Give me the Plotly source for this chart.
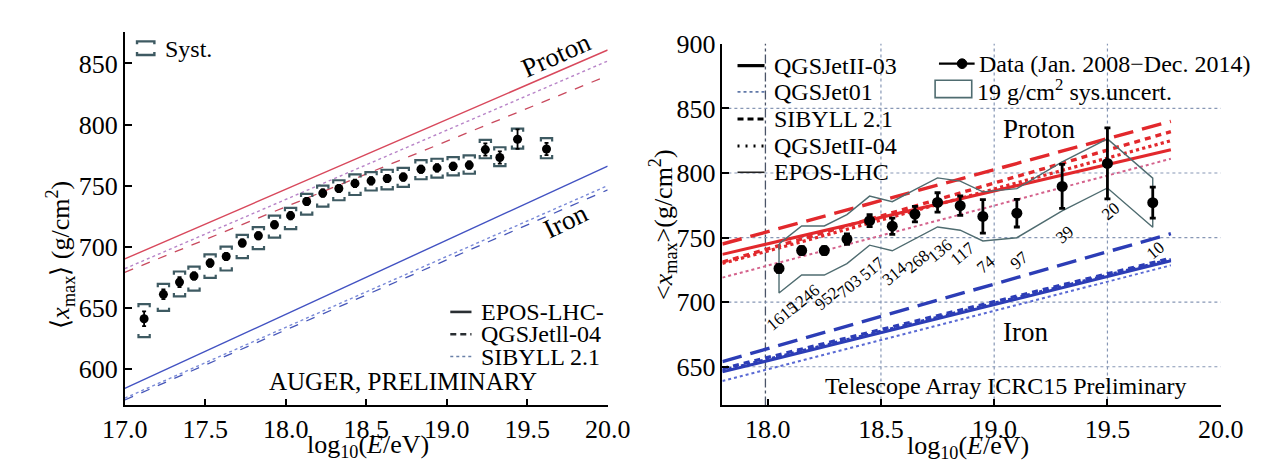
import plotly.graph_objects as go

W, H = 1273, 461
FONT = "Liberation Serif"

# ---------------- Auger (left panel) ----------------
auger_lgE = [17.12, 17.24, 17.34, 17.43, 17.53, 17.63, 17.73, 17.83, 17.93, 18.03,
             18.13, 18.23, 18.33, 18.43, 18.53, 18.63, 18.73, 18.84, 18.94, 19.04,
             19.14, 19.24, 19.33, 19.44, 19.62]
auger_xmax = [641, 661, 671, 676, 686.6, 692, 703, 709, 718, 725.4,
              737, 743.9, 747.6, 751.8, 753.9, 755.8, 757, 763.4, 764.5, 765.8,
              766.8, 779.5, 773, 788, 780]
auger_stat = [6, 4, 4, 3, 3, 3, 3, 3, 3, 3, 3, 3, 3, 3, 3, 3, 3, 3, 3, 3, 3, 5, 5, 8, 5]
auger_sys_hi = [653, 669.5, 679.7, 683.7, 693.7, 700, 709.6, 716, 725.4, 731.7,
                743.3, 750, 754.4, 759.2, 761, 763, 764.5, 770.8, 772, 773.4,
                774.8, 787.4, 781.4, 796.7, 788.8]
auger_sys_lo = [626, 647.5, 659.4, 664, 674.5, 680.5, 690.6, 698, 707.4, 714.3,
                726.2, 732.8, 738, 742.3, 746, 747, 749, 755.2, 756.5, 758.4,
                759.7, 772.4, 766, 780.3, 772.4]

auger_model_lgE = [17.0, 20.0]
auger_p_epos = [690, 861]
auger_p_qgs04 = [679, 840]
auger_p_sib = [682, 852]
auger_fe_epos = [584, 766]
auger_fe_qgs04 = [574.5, 746.5]
auger_fe_sib = [576, 750]

auger_xticks = [17.0, 17.5, 18.0, 18.5, 19.0, 19.5, 20.0]
auger_yticks = [600, 650, 700, 750, 800, 850]
auger_legend = ["EPOS-LHC-", "QGSJetll-04", "SIBYLL 2.1"]

# ---------------- Telescope Array (right panel) ----------------
ta_lgE = [18.05, 18.15, 18.25, 18.35, 18.45, 18.55, 18.65, 18.75, 18.85, 18.95,
          19.1, 19.3, 19.5, 19.7]
ta_xmax = [726.1, 740, 740, 748.8, 763.1, 758.8, 768.1, 777.2, 774.7, 766.4,
           768.9, 789.6, 807.4, 777]
ta_stat = [3, 3, 3, 4, 4.7, 6.3, 6, 7.5, 7.5, 13, 10.7, 17, 27.5, 12]
ta_sys = 19
ta_counts = ["1615", "1246", "952", "703", "517", "314", "268", "136", "117",
             "74", "97", "39", "20", "10"]

ta_model_lgE = [17.8, 19.78]
ta_p_sib = [745, 840]
ta_p_qgs04 = [731, 832]
ta_p_epos = [730, 825]
ta_p_qgs03 = [737, 818]
ta_p_qgs01 = [719, 811]
ta_fe_sib = [654, 753]
ta_fe_qgs04 = [648.5, 734]
ta_fe_epos = [647, 733]
ta_fe_qgs03 = [646, 732]
ta_fe_qgs01 = [639, 728.5]

ta_xticks = [18.0, 18.5, 19.0, 19.5, 20.0]
ta_yticks = [650, 700, 750, 800, 850, 900]
ta_grid_x = [18.5, 19.0, 19.5]
ta_grid_x_main = 17.99
ta_grid_y = [650, 700, 750, 800, 850]
ta_legend = ["QGSJetII-03", "QGSJet01", "SIBYLL 2.1", "QGSJetII-04", "EPOS-LHC"]


def px(x):
    return x / W


def py(y):
    return 1 - y / H


fig = go.Figure()

RED_L = "#d8485c"
BLUE_L = "#4252c2"
left_lines = [
    (auger_p_epos, RED_L, "solid", 1.4),
    (auger_p_qgs04, "#c94a5e", "dash", 1.3),
    (auger_p_sib, "#b884c8", "dot", 1.4),
    (auger_fe_epos, BLUE_L, "solid", 1.4),
    (auger_fe_qgs04, "#4656b8", "dash", 1.3),
    (auger_fe_sib, "#7a8ad8", "dot", 1.4),
]
for ys, col, dash, w in left_lines:
    fig.add_trace(go.Scatter(x=auger_model_lgE, y=ys, mode="lines", xaxis="x", yaxis="y",
                             line=dict(color=col, dash=dash, width=w), showlegend=False,
                             hoverinfo="skip"))

bw, bh = 0.035, 2.6
bx, by = [], []
for x, hi, lo in zip(auger_lgE, auger_sys_hi, auger_sys_lo):
    bx += [x - bw, x - bw, x + bw, x + bw, None, x - bw, x - bw, x + bw, x + bw, None]
    by += [hi - bh, hi, hi, hi - bh, None, lo + bh, lo, lo, lo + bh, None]
fig.add_trace(go.Scatter(x=bx, y=by, mode="lines", xaxis="x", yaxis="y",
                         line=dict(color="#3e5a62", width=2.2), showlegend=False,
                         hoverinfo="skip"))

fig.add_trace(go.Scatter(x=auger_lgE, y=auger_xmax, mode="markers", xaxis="x", yaxis="y",
                         marker=dict(color="black", size=9),
                         error_y=dict(type="data", array=auger_stat, color="black",
                                      thickness=1.8, width=2),
                         showlegend=False))

RED = "#e2282c"
BLUE = "#2c3db6"
right_lines = [
    (ta_p_qgs01, "#d4628c", "dot", 2.0),
    (ta_p_qgs03, RED, "solid", 3.0),
    (ta_p_epos, RED, "dot", 3.2),
    (ta_p_qgs04, RED, "6px,5px", 3.4),
    (ta_p_sib, RED, "20px,9px", 3.4),
    (ta_fe_qgs01, "#5a6ad4", "dot", 2.0),
    (ta_fe_qgs03, BLUE, "solid", 3.0),
    (ta_fe_epos, BLUE, "dot", 3.2),
    (ta_fe_qgs04, BLUE, "6px,5px", 3.4),
    (ta_fe_sib, BLUE, "20px,9px", 3.4),
]
for ys, col, dash, w in right_lines:
    fig.add_trace(go.Scatter(x=ta_model_lgE, y=ys, mode="lines", xaxis="x2", yaxis="y2",
                             line=dict(color=col, dash=dash, width=w), showlegend=False,
                             hoverinfo="skip"))

band_hi = [v + ta_sys for v in ta_xmax]
band_lo = [v - ta_sys for v in ta_xmax]
band_x = ta_lgE + ta_lgE[::-1] + [ta_lgE[0]]
band_y = band_hi + band_lo[::-1] + [band_hi[0]]
fig.add_trace(go.Scatter(x=band_x, y=band_y, mode="lines", xaxis="x2", yaxis="y2",
                         line=dict(color="#4f6c70", width=1.4), showlegend=False,
                         hoverinfo="skip"))

fig.add_trace(go.Scatter(x=ta_lgE, y=ta_xmax, mode="markers", xaxis="x2", yaxis="y2",
                         marker=dict(color="black", size=11),
                         error_y=dict(type="data", array=ta_stat, color="black",
                                      thickness=2.8, width=3),
                         showlegend=False))

annotations = []
shapes = []

for x, y, t in zip(ta_lgE, band_lo, ta_counts):
    annotations.append(dict(x=x + 0.012, y=y - 18, xref="x2", yref="y2", text=t,
                            showarrow=False, textangle=-40,
                            font=dict(family=FONT, size=17, color="black")))

for v in ta_grid_x:
    shapes.append(dict(type="line", xref="x2", yref="y2 domain", x0=v, x1=v, y0=0, y1=1,
                       line=dict(color="#8797b5", width=1.2, dash="dot"), layer="below"))
shapes.append(dict(type="line", xref="x2", yref="y2 domain", x0=ta_grid_x_main,
                   x1=ta_grid_x_main, y0=0, y1=1,
                   line=dict(color="#4a5468", width=1.3, dash="dashdot"), layer="below"))
for v in ta_grid_y:
    shapes.append(dict(type="line", xref="x2 domain", yref="y2", x0=0, x1=1, y0=v, y1=v,
                       line=dict(color="#8797b5", width=1.2, dash="dot"), layer="below"))


def txt(x, y, s, size=24, xanchor="center", angle=0, xref="paper", yref="paper"):
    annotations.append(dict(x=x, y=y, xref=xref, yref=yref, text=s, showarrow=False,
                            xanchor=xanchor, yanchor="middle", textangle=angle,
                            font=dict(family=FONT, size=size, color="black")))


txt(19.68, 857, "Proton", 27, angle=-24, xref="x", yref="y")
txt(19.74, 721, "Iron", 27, angle=-26, xref="x", yref="y")
txt(px(386), py(371), "AUGER, PRELIMINARY", 25)
txt(px(137), py(28), "Syst.", 24, xanchor="left")
txt(px(350), py(437), "log<sub>10</sub>(<i>E</i>/eV)", 26)
txt(px(30), py(240), "⟨<i>x</i><sub>max</sub>⟩ (g/cm<sup>2</sup>)", 26, angle=-90)

leg_rows = [299, 322, 345]
leg_styles = [("#2a2f33", "solid", 2.6), ("#2a2f33", "6px,4px", 2.6), ("#6a80a8", "dot", 1.6)]
for r, name, (c, d, w) in zip(leg_rows, auger_legend, leg_styles):
    shapes.append(dict(type="line", xref="paper", yref="paper", x0=px(435), x1=px(457),
                       y0=py(r), y1=py(r), line=dict(color=c, dash=d, width=w)))
    txt(px(465), py(r), name, 24, xanchor="left")

sc = "#3e5a62"
for yb, sgn in ((20, 1), (34, -1)):
    shapes.append(dict(type="path", xref="paper", yref="paper",
                       path=f"M {px(110)},{py(yb + 3*sgn)} L {px(110)},{py(yb)} L {px(128)},{py(yb)} L {px(128)},{py(yb + 3*sgn)}",
                       line=dict(color=sc, width=2.4)))

txt(19.2, 834, "Proton", 27, xref="x2", yref="y2")
txt(19.14, 677, "Iron", 27, xref="x2", yref="y2")
txt(px(1012), py(375), "Telescope Array ICRC15 Preliminary", 24)
txt(px(972), py(438), "log<sub>10</sub>(<i>E</i>/eV)", 26)
txt(px(655), py(209), "&lt;<i>x</i><sub>max</sub>&gt;(g/cm<sup>2</sup>)", 26, angle=-90)

r_rows = [45, 72, 100, 128, 155]
r_styles = [("black", "solid", 3.2), ("#6078a8", "dot", 1.8), ("black", "6px,4px", 3.0),
            ("black", "2px,6px", 3.0), ("#222", "solid", 1.6)]
for r, name, (c, d, w) in zip(r_rows, ta_legend, r_styles):
    shapes.append(dict(type="line", xref="paper", yref="paper", x0=px(733), x1=px(761),
                       y0=py(r), y1=py(r), line=dict(color=c, dash=d, width=w)))
    txt(px(769), py(r), name, 24, xanchor="left")

shapes.append(dict(type="line", xref="paper", yref="paper", x0=px(942), x1=px(979),
                   y0=py(43), y1=py(43), line=dict(color="black", width=2.2)))
shapes.append(dict(type="circle", xref="paper", yref="paper", x0=px(961), x1=px(971),
                   y0=py(48), y1=py(38), fillcolor="black", line=dict(color="black", width=1)))
txt(px(981), py(43), "Data (Jan. 2008−Dec. 2014)", 24, xanchor="left")
shapes.append(dict(type="rect", xref="paper", yref="paper", x0=px(938), x1=px(976),
                   y0=py(78), y1=py(60), line=dict(color="#4f6c70", width=1.6)))
txt(px(979), py(70), "19 g/cm<sup>2</sup> sys.uncert.", 24, xanchor="left")

axis_common = dict(showline=True, linecolor="black", linewidth=1.6, ticks="inside",
                   ticklen=7, tickwidth=1.5, tickcolor="black", showgrid=False,
                   zeroline=False, mirror=False,
                   tickfont=dict(family=FONT, size=26, color="black"))

fig.update_layout(
    width=W, height=H,
    margin=dict(l=0, r=0, t=0, b=0),
    paper_bgcolor="white", plot_bgcolor="white",
    showlegend=False,
    xaxis=dict(domain=[px(97.3), px(598.3)], range=[17.0, 20.0], anchor="y",
               tickvals=auger_xticks, ticktext=[f"{v:.1f}" for v in auger_xticks], **axis_common),
    yaxis=dict(domain=[py(395.5), py(10)], range=[570, 876], anchor="x",
               tickvals=auger_yticks, **axis_common),
    xaxis2=dict(domain=[px(717.3), px(1234.3)], range=[17.8, 20.0], anchor="y2",
                tickvals=ta_xticks, ticktext=[f"{v:.1f}" for v in ta_xticks], **axis_common),
    yaxis2=dict(domain=[py(395.5), py(22.5)], range=[620, 900], anchor="x2",
                tickvals=ta_yticks, **axis_common),
    annotations=annotations,
    shapes=shapes,
)

fig.write_html("out.html")
